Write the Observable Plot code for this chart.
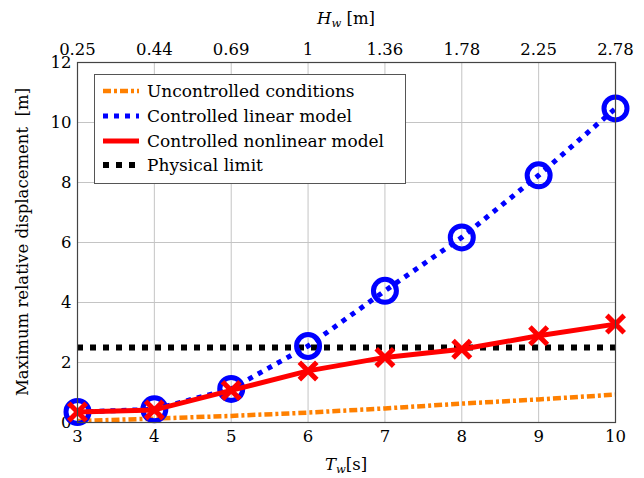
<!DOCTYPE html>
<html><head><meta charset="utf-8">
<script src="https://cdn.jsdelivr.net/npm/d3@7"></script>
<script src="https://cdn.jsdelivr.net/npm/@observablehq/plot@0.6"></script>
<style>
body{margin:0;background:#fff;}
#wrap{position:relative;width:644px;height:478px;font-family:"DejaVu Serif",serif;}
#legend{position:absolute;left:94px;top:74px;width:312px;height:110px;border:1px solid #555;background:#fff;box-sizing:border-box;padding-top:4px;}
.row{display:flex;align-items:center;height:24.7px;font-size:17px;color:#000;font-family:"DejaVu Serif",serif;white-space:nowrap;}
.row svg{margin-left:8px;margin-right:8px;}
</style></head><body><div id="wrap"></div>
<script>
const Tw = [3, 4, 5, 6, 7, 8, 9, 10];
const HwLabels = ["0.25", "0.44", "0.69", "1", "1.36", "1.78", "2.25", "2.78"];
const uncontrolled = [0.05, 0.13, 0.22, 0.33, 0.47, 0.63, 0.77, 0.93];
const linearModel = [0.35, 0.44, 1.12, 2.55, 4.39, 6.17, 8.24, 10.47];
const nonlinearModel = [0.35, 0.42, 1.07, 1.72, 2.17, 2.44, 2.89, 3.28];
const physicalLimit = [2.5];
const yTicks = [0, 2, 4, 6, 8, 10, 12];
const seriesNames = ["Uncontrolled conditions", "Controlled linear model", "Controlled nonlinear model", "Physical limit"];

const toRows = vals => Tw.map((t, i) => ({x: t, y: vals[i]}));
const font = "DejaVu Serif";

const plot = Plot.plot({
  width: 644, height: 478,
  marginLeft: 77, marginRight: 29, marginTop: 62, marginBottom: 56,
  style: {fontFamily: font, fontSize: "16px", background: "#fff", color: "#000"},
  x: {domain: [3, 10], label: null},
  y: {domain: [0, 12], label: null},
  marks: [
    Plot.gridX(Tw, {stroke: "#c4c4c4", strokeOpacity: 1, strokeWidth: 1}),
    Plot.gridY(yTicks, {stroke: "#c4c4c4", strokeOpacity: 1, strokeWidth: 1}),
    Plot.axisX(Tw, {anchor: "bottom", tickSize: 0, tickPadding: 8, label: null, fontSize: 16.5, fontFamily: font}),
    Plot.axisX(Tw, {anchor: "top", tickSize: 0, tickPadding: 8, label: null, fontSize: 16.5, fontFamily: font,
      tickFormat: d => HwLabels[Tw.indexOf(d)]}),
    Plot.axisY(yTicks, {anchor: "left", tickSize: 0, tickPadding: 6, label: null, fontSize: 16.5, fontFamily: font}),
    Plot.ruleY(physicalLimit, {stroke: "#000", strokeWidth: 6, strokeDasharray: "6,7", strokeLinecap: "butt"}),
    Plot.line(toRows(uncontrolled), {x: "x", y: "y", stroke: "#ff8000", strokeWidth: 4.5, strokeDasharray: "8,3,3,3", strokeLinecap: "butt"}),
    Plot.line(toRows(linearModel), {x: "x", y: "y", stroke: "#0000ff", strokeWidth: 5, strokeDasharray: "5,6", strokeLinecap: "butt"}),
    Plot.dot(toRows(linearModel), {x: "x", y: "y", r: 11.5, stroke: "#0000ff", strokeWidth: 5, fill: "none"}),
    Plot.line(toRows(nonlinearModel), {x: "x", y: "y", stroke: "#ff0000", strokeWidth: 5}),
    Plot.dot(toRows(nonlinearModel), {x: "x", y: "y", symbol: "times", r: 8, stroke: "#ff0000", strokeWidth: 5}),
    Plot.frame({stroke: "#444", strokeWidth: 1.2})
  ]
});

const wrap = document.getElementById("wrap");
wrap.appendChild(plot);
const sx = plot.scale("x"), sy = plot.scale("y");
const svg = d3.select(plot);
const midX = (sx.range[0] + sx.range[1]) / 2;
const midY = (sy.range[0] + sy.range[1]) / 2;

function addLabel(x, y, rot, parts) {
  const t = svg.append("text").attr("font-family", font).attr("font-size", 16.5).attr("text-anchor", "middle")
    .attr("fill", "#000")
    .attr("transform", `translate(${x},${y}) rotate(${rot})`);
  parts.forEach(p => {
    const ts = t.append("tspan").text(p.t);
    if (p.i) ts.attr("font-style", "italic");
    if (p.sub) ts.attr("font-size", 11.5).attr("baseline-shift", "-25%");
  });
}
addLabel(midX, 24, 0, [{t: "H", i: 1}, {t: "w", i: 1, sub: 1}, {t: " [m]"}]);
addLabel(midX, 470, 0, [{t: "T", i: 1}, {t: "w", i: 1, sub: 1}, {t: "[s]"}]);
addLabel(28, midY, -90, [{t: "Maximum relative displacement  [m]"}]);

// legend
const legend = document.createElement("div");
legend.id = "legend";
const styles = [
  {stroke: "#ff8000", dash: "8,3,3,3", w: 4.5},
  {stroke: "#0000ff", dash: "5,6", w: 5},
  {stroke: "#ff0000", dash: null, w: 5},
  {stroke: "#000", dash: "6,7", w: 6}
];
seriesNames.forEach((name, i) => {
  const row = document.createElement("div");
  row.className = "row";
  const s = d3.create("svg").attr("width", 36).attr("height", 10);
  s.append("line").attr("x1", 0).attr("x2", 36).attr("y1", 5).attr("y2", 5)
    .attr("stroke", styles[i].stroke).attr("stroke-width", styles[i].w)
    .attr("stroke-dasharray", styles[i].dash);
  row.appendChild(s.node());
  const span = document.createElement("span");
  span.textContent = name;
  row.appendChild(span);
  legend.appendChild(row);
});
wrap.appendChild(legend);
</script>
</body></html>
